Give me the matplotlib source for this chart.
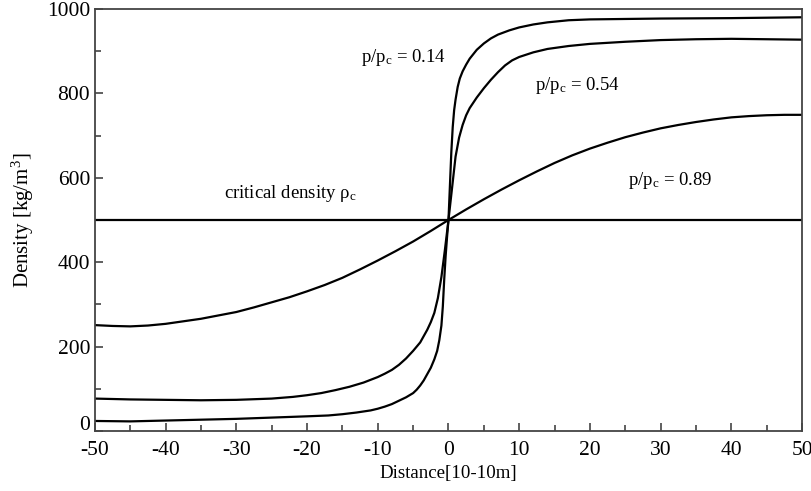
import matplotlib
matplotlib.use('Agg')
import matplotlib.pyplot as plt
import matplotlib.transforms as mtransforms
from matplotlib.ticker import MultipleLocator

plt.rcParams['font.family'] = ['Liberation Serif', 'DejaVu Serif']
plt.rcParams['mathtext.fontset'] = 'custom'
plt.rcParams['mathtext.rm'] = 'Liberation Serif'
plt.rcParams['mathtext.it'] = 'Liberation Serif:italic'
plt.rcParams['axes.unicode_minus'] = False

# datos
x_014 = [-50, -45, -40, -35, -30, -25, -20, -17, -15, -13, -11, -10, -9, -8, -7, -6, -5,
         -4.5, -4, -3.5, -3, -2.5, -2, -1.6, -1.3, -1.0, -0.8, -0.6, -0.4, -0.2, 0,
         0.2, 0.4, 0.6, 0.8, 1.0, 1.3, 1.6, 2, 2.5, 3, 4, 5, 6, 7, 8.6, 10, 12, 14, 17,
         20, 25, 30, 40, 50]
y_014 = [24, 23, 25, 27, 29, 32, 35, 37, 40, 44, 49, 53, 58, 64, 72, 80, 90,
         98, 108, 120, 135, 150, 170, 190, 215, 250, 295, 360, 415, 460, 500,
         580, 660, 720, 760, 785, 815, 835, 852, 868, 882, 903, 918, 930, 939, 949, 956, 963, 968, 973,
         975, 976, 977, 978, 980]

x_054 = [-50, -45, -40, -35, -30, -25, -22, -20, -18, -16, -14, -12, -10, -9, -8, -7, -6,
         -5, -4, -3, -2.5, -2, -1.5, -1, -0.5, 0, 0.5, 1, 1.5, 2, 2.5, 3, 4, 5, 6, 7, 8,
         9, 10, 12, 14, 17, 20, 25, 30, 35, 40, 45, 50]
y_054 = [77, 75, 74, 73, 74, 77, 81, 85, 90, 97, 105, 115, 128, 136, 145, 157, 172,
         190, 210, 240, 258, 280, 315, 365, 430, 500, 575, 650, 695, 725, 748, 765, 790, 812, 832, 850, 866,
         878, 886, 897, 905, 912, 917, 922, 926, 928, 929, 928, 927]

x_089 = [-50, -47.5, -45, -42.5, -40, -37.5, -35, -32.5, -30, -27.5, -25, -22.5, -20, -17.5,
         -15, -12.5, -10, -7.5, -5, -2.5, 0, 2.5, 5, 7.5, 10, 12.5, 15, 17.5, 20, 22.5,
         25, 27.5, 30, 32.5, 35, 37.5, 40, 42.5, 45, 47.5, 50]
y_089 = [251, 249, 248, 250, 254, 260, 266, 274, 282, 293, 305, 317, 331, 346,
         363, 383, 404, 426, 449, 474, 500, 525, 549, 572, 594, 615, 635, 653, 669, 683,
         696, 707, 717, 725, 732, 738, 743, 746, 748, 749, 749]

rho_c = 500

fig = plt.figure(figsize=(8.11, 4.91), dpi=100)
ax = fig.add_axes([0.117, 0.122, 0.872, 0.860])

ax.axhline(rho_c, color='black', lw=1.6)
for xs, ys in [(x_014, y_014), (x_054, y_054), (x_089, y_089)]:
    ax.plot(xs, ys, color='black', lw=1.6, solid_joinstyle='round')

ax.text(-12.4, 885, r'p/p$_\mathrm{c}$ = 0.14', fontsize=13.5, va='center')
ax.text(12.2, 819, r'p/p$_\mathrm{c}$ = 0.54', fontsize=13.5, va='center')
ax.text(25.4, 594, r'p/p$_\mathrm{c}$ = 0.89', fontsize=13.5, va='center')
ax.text(-31.7, 563, r'critical density ρ$_\mathrm{c}$', fontsize=13.5, va='center')

ax.set_xlim(-50, 50)
ax.set_ylim(0, 1000)
ax.xaxis.set_major_locator(MultipleLocator(10))
ax.xaxis.set_minor_locator(MultipleLocator(5))
ax.yaxis.set_major_locator(MultipleLocator(200))
ax.yaxis.set_minor_locator(MultipleLocator(100))
ax.tick_params(which='both', direction='in', labelsize=15.5, color='#444444')
ax.tick_params(which='major', length=6, width=1.2)
ax.tick_params(which='minor', length=4.5, width=1.2)
ax.tick_params(axis='x', pad=7)
for s in ax.spines.values():
    s.set_color('#444444')
    s.set_linewidth(1.3)

# el "0" del eje y va un poco mas arriba, como en el original
ylocs = list(ax.get_yticks())
lbl0 = ax.yaxis.get_major_ticks()[ylocs.index(0)].label1
lbl0.set_transform(lbl0.get_transform() + mtransforms.ScaledTranslation(0, 0.08, fig.dpi_scale_trans))

ax.set_xlabel('Distance[10-10m]', fontsize=13.6)
ax.set_ylabel(r'Density [kg/m$^3$]', fontsize=15, labelpad=8)

fig.savefig('out.png', dpi=100)
